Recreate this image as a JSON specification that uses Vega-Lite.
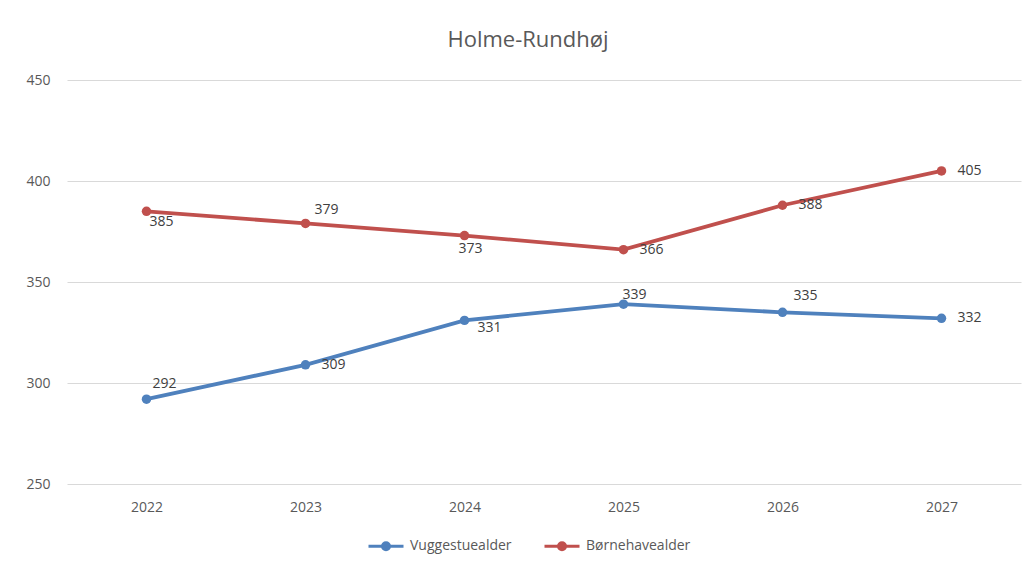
{
"$schema": "https://vega.github.io/schema/vega-lite/v6.json",
"width": 954, "height": 404,
"autosize": {"type": "none"},
"padding": {"left": 67, "top": 80, "right": 11, "bottom": 79},
"background": "white",
"title": {"text": "Holme-Rundhøj", "anchor": "middle", "frame": "group", "font": "Open Sans", "fontSize": 22, "fontWeight": "normal", "color": "#595959", "dx": -16, "offset": 4, "baseline": "alphabetic"},
"config": {"view": {"stroke": null}, "font": "Open Sans"},
"data": {"values": [
{"year": "2022", "series": "Vuggestuealder", "value": 292},
{"year": "2023", "series": "Vuggestuealder", "value": 309},
{"year": "2024", "series": "Vuggestuealder", "value": 331},
{"year": "2025", "series": "Vuggestuealder", "value": 339},
{"year": "2026", "series": "Vuggestuealder", "value": 335},
{"year": "2027", "series": "Vuggestuealder", "value": 332},
{"year": "2022", "series": "Børnehavealder", "value": 385},
{"year": "2023", "series": "Børnehavealder", "value": 379},
{"year": "2024", "series": "Børnehavealder", "value": 373},
{"year": "2025", "series": "Børnehavealder", "value": 366},
{"year": "2026", "series": "Børnehavealder", "value": 388},
{"year": "2027", "series": "Børnehavealder", "value": 405}
]},
"encoding": {
"x": {"field": "year", "type": "ordinal", "scale": {"type": "point", "padding": 0.5}, "axis": {"title": null, "labelAngle": 0, "domain": false, "ticks": false, "grid": false, "labelPadding": 16, "labelFont": "Open Sans", "labelFontSize": 14, "labelColor": "#595959"}},
"y": {"field": "value", "type": "quantitative", "scale": {"domain": [250, 450], "nice": false, "zero": false}, "axis": {"title": null, "values": [250, 300, 350, 400, 450], "domain": false, "ticks": false, "labelPadding": 17, "gridColor": "#D9D9D9", "gridWidth": 1, "labelFont": "Open Sans", "labelFontSize": 14, "labelColor": "#595959"}}
},
"layer": [
{"mark": {"type": "line", "strokeWidth": 3.8},
 "encoding": {"color": {"field": "series", "type": "nominal", "scale": {"domain": ["Vuggestuealder", "Børnehavealder"], "range": ["#4F81BD", "#C0504D"]},
  "legend": {"orient": "none", "legendX": 300, "legendY": 447, "direction": "horizontal", "title": null, "labelFont": "Open Sans", "labelFontSize": 14, "labelColor": "#595959", "symbolType": "M-1,0L1,0M-0.2,0A0.2,0.2 0 1,1 0.2,0A0.2,0.2 0 1,1 -0.2,0Z", "symbolSize": 1225, "symbolStrokeWidth": 3, "labelOffset": 5, "columnPadding": 26, "symbolOffset": 0,
   "encode": {"symbols": {"update": {"fill": {"scale": "color", "field": "value"}, "stroke": {"scale": "color", "field": "value"}}}}}}}},
{"mark": {"type": "point", "filled": true, "size": 90, "opacity": 1},
 "encoding": {"color": {"field": "series", "type": "nominal", "legend": null}}},
{"transform": [{"filter": "(datum.series === 'Vuggestuealder' && (datum.year === '2023' || datum.year === '2027')) || (datum.series === 'Børnehavealder' && (datum.year === '2025' || datum.year === '2026' || datum.year === '2027'))"}],
 "mark": {"type": "text", "align": "left", "baseline": "middle", "dx": 16, "dy": 0, "font": "Open Sans", "fontSize": 14, "color": "#404040"},
 "encoding": {"text": {"field": "value", "type": "quantitative"}}},
{"transform": [{"filter": "datum.series === 'Vuggestuealder' && datum.year === '2022'"}],
 "mark": {"type": "text", "align": "left", "baseline": "middle", "dx": 6, "dy": -15, "font": "Open Sans", "fontSize": 14, "color": "#404040"},
 "encoding": {"text": {"field": "value", "type": "quantitative"}}},
{"transform": [{"filter": "datum.series === 'Vuggestuealder' && datum.year === '2024'"}],
 "mark": {"type": "text", "align": "left", "baseline": "middle", "dx": 13, "dy": 8, "font": "Open Sans", "fontSize": 14, "color": "#404040"},
 "encoding": {"text": {"field": "value", "type": "quantitative"}}},
{"transform": [{"filter": "datum.series === 'Vuggestuealder' && datum.year === '2025'"}],
 "mark": {"type": "text", "align": "left", "baseline": "middle", "dx": -1, "dy": -9, "font": "Open Sans", "fontSize": 14, "color": "#404040"},
 "encoding": {"text": {"field": "value", "type": "quantitative"}}},
{"transform": [{"filter": "datum.series === 'Vuggestuealder' && datum.year === '2026'"}],
 "mark": {"type": "text", "align": "left", "baseline": "middle", "dx": 11, "dy": -16, "font": "Open Sans", "fontSize": 14, "color": "#404040"},
 "encoding": {"text": {"field": "value", "type": "quantitative"}}},
{"transform": [{"filter": "datum.series === 'Børnehavealder' && datum.year === '2022'"}],
 "mark": {"type": "text", "align": "left", "baseline": "middle", "dx": 3, "dy": 11, "font": "Open Sans", "fontSize": 14, "color": "#404040"},
 "encoding": {"text": {"field": "value", "type": "quantitative"}}},
{"transform": [{"filter": "datum.series === 'Børnehavealder' && datum.year === '2023'"}],
 "mark": {"type": "text", "align": "left", "baseline": "middle", "dx": 9, "dy": -13, "font": "Open Sans", "fontSize": 14, "color": "#404040"},
 "encoding": {"text": {"field": "value", "type": "quantitative"}}},
{"transform": [{"filter": "datum.series === 'Børnehavealder' && datum.year === '2024'"}],
 "mark": {"type": "text", "align": "left", "baseline": "middle", "dx": -6, "dy": 13, "font": "Open Sans", "fontSize": 14, "color": "#404040"},
 "encoding": {"text": {"field": "value", "type": "quantitative"}}}
]
}
